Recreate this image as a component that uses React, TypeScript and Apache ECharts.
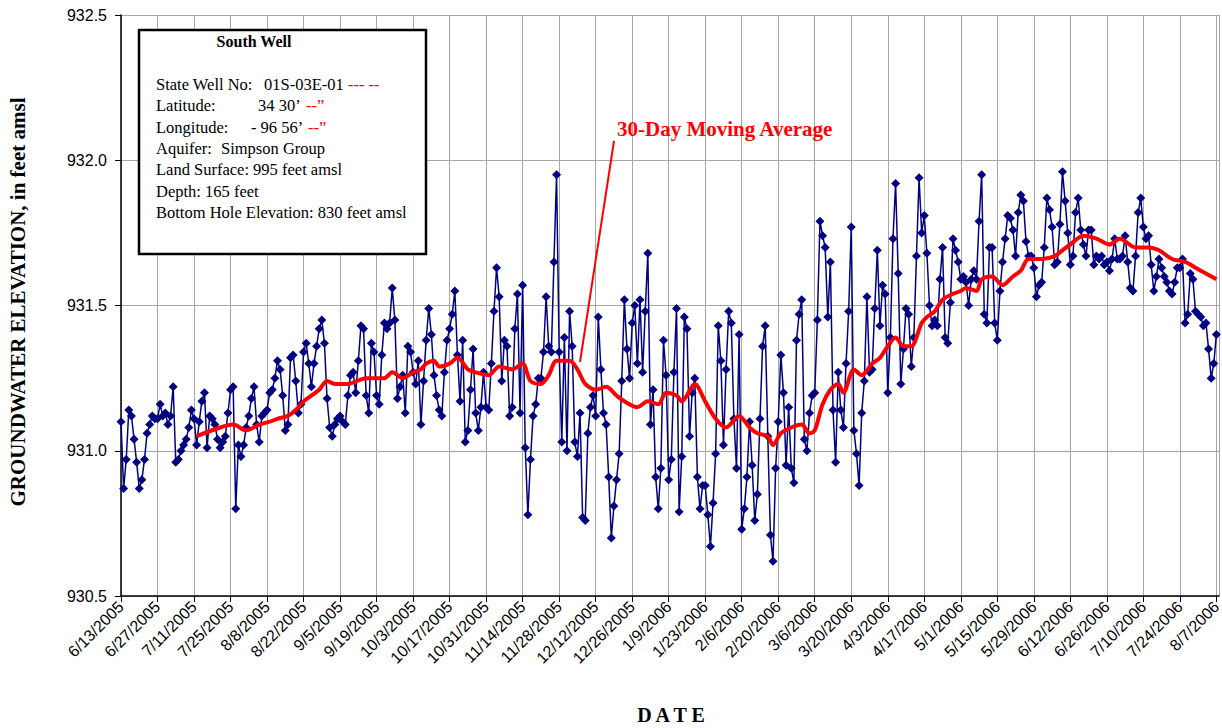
import React, { useEffect, useRef } from "react";
import * as echarts from "echarts";

// Tick labels every 14 days, starting 6/13/2005 (day 0)
const tickLabels = [
  "6/13/2005", "6/27/2005", "7/11/2005", "7/25/2005", "8/8/2005", "8/22/2005",
  "9/5/2005", "9/19/2005", "10/3/2005", "10/17/2005", "10/31/2005", "11/14/2005",
  "11/28/2005", "12/12/2005", "12/26/2005", "1/9/2006", "1/23/2006", "2/6/2006",
  "2/20/2006", "3/6/2006", "3/20/2006", "4/3/2006", "4/17/2006", "5/1/2006",
  "5/15/2006", "5/29/2006", "6/12/2006", "6/26/2006", "7/10/2006", "7/24/2006",
  "8/7/2006",
];

const xTitle = "D A T E";
const yTitle = "GROUNDWATER ELEVATION, in feet amsl";

// Daily groundwater elevations (feet amsl), one per day from 6/13/2005
const dailyLevels = [
  931.10, 930.87, 930.97, 931.14, 931.12, 931.04, 930.96, 930.87, 930.90, 930.97, 931.06, 931.09, 931.12, 931.11,
  931.11, 931.16, 931.12, 931.13, 931.09, 931.12, 931.22, 930.96, 930.97, 931.00, 931.02, 931.04, 931.08,
  931.14, 931.11, 931.02, 931.10, 931.17, 931.20, 931.01, 931.12, 931.11, 931.09, 931.04, 931.01, 931.03, 931.05,
  931.13, 931.21, 931.22, 930.80, 931.02, 930.98, 931.02, 931.08, 931.12, 931.18, 931.22, 931.09, 931.03, 931.12,
  931.13, 931.14, 931.20, 931.21, 931.25, 931.31, 931.28, 931.19, 931.07, 931.09, 931.32, 931.33, 931.24, 931.13,
  931.16, 931.34, 931.37, 931.30, 931.22, 931.30, 931.36, 931.42, 931.45, 931.37, 931.18, 931.08, 931.05,
  931.09, 931.11, 931.12, 931.10, 931.09, 931.19, 931.26, 931.27, 931.20, 931.31, 931.43, 931.42, 931.19, 931.13,
  931.37, 931.34, 931.19, 931.16, 931.33, 931.44, 931.42, 931.44, 931.56, 931.45, 931.18, 931.22, 931.26, 931.13,
  931.36, 931.34, 931.27, 931.23, 931.31, 931.09, 931.24, 931.38, 931.49, 931.40, 931.26, 931.19, 931.14,
  931.12, 931.27, 931.38, 931.42, 931.47, 931.55, 931.33, 931.17, 931.38, 931.03, 931.07, 931.21, 931.35, 931.13,
  931.07, 931.15, 931.27, 931.15, 931.14, 931.30, 931.48, 931.63, 931.53, 931.24, 931.38, 931.36, 931.12, 931.15,
  931.42, 931.54, 931.13, 931.57, 931.01, 930.78, 930.97, 931.12, 931.16, 931.25, 931.25, 931.34, 931.53, 931.36,
  931.34, 931.65, 931.95, 931.34, 931.03, 931.39, 931.00, 931.48, 931.36, 931.03, 930.98, 931.13, 930.77, 930.76,
  931.06, 931.15, 931.19, 931.12, 931.46, 931.28, 931.13, 931.09, 930.91, 930.70,
  930.81, 930.90, 930.99, 931.24, 931.52, 931.35, 931.25, 931.44, 931.50, 931.30, 931.52, 931.27, 931.48, 931.68,
  931.09, 931.21, 930.91, 930.80, 930.94, 931.38, 931.26, 930.90, 930.97, 931.27, 931.49, 930.79, 930.98, 931.46,
  931.42, 931.05, 931.20, 931.25, 930.91, 930.80, 930.88, 930.88, 930.78, 930.67,
  930.82, 930.99, 931.43, 931.31, 931.02, 931.28, 931.48, 931.44, 931.11, 930.94, 931.40, 930.73, 930.80, 930.91,
  931.10, 930.95, 930.76, 930.85, 931.11, 931.36, 931.43, 931.05, 930.71, 930.62,
  930.94, 931.10, 931.33, 931.20, 930.95, 931.15, 930.94, 930.89, 931.38, 931.47, 931.52, 931.04, 931.00, 931.13,
  931.19, 931.20, 931.45, 931.79,
  931.74, 931.70, 931.46, 931.65, 931.14, 930.96, 931.27, 931.14, 931.08, 931.30, 931.48, 931.77, 931.07, 930.99,
  930.88, 931.13, 931.24, 931.53, 931.27, 931.28, 931.49, 931.69, 931.43, 931.57, 931.54, 931.20, 931.39, 931.73,
  931.92, 931.61, 931.23, 931.35, 931.49, 931.47, 931.29, 931.39, 931.67, 931.94,
  931.75, 931.81, 931.68, 931.50, 931.43, 931.45, 931.43, 931.59, 931.70, 931.39, 931.37, 931.51, 931.73, 931.69,
  931.65, 931.59, 931.60, 931.58, 931.50, 931.59, 931.62, 931.59, 931.79, 931.95,
  931.47, 931.44, 931.70, 931.70, 931.44, 931.38, 931.55, 931.65, 931.73, 931.81, 931.80, 931.76, 931.67, 931.82,
  931.88, 931.86, 931.72, 931.67, 931.67, 931.63, 931.53, 931.57, 931.58, 931.70, 931.87, 931.83, 931.77, 931.64,
  931.65, 931.78, 931.96,
  931.86, 931.75, 931.64, 931.67, 931.82, 931.87, 931.76, 931.71, 931.67, 931.76, 931.76, 931.64, 931.67, 931.66,
  931.67, 931.64, 931.65, 931.62, 931.66, 931.73,
  931.66, 931.66, 931.67, 931.74, 931.65, 931.56, 931.55, 931.67, 931.82, 931.87,
  931.77, 931.73, 931.74, 931.64, 931.55, 931.60, 931.66, 931.63, 931.60, 931.58, 931.55, 931.54, 931.58, 931.63,
  931.63, 931.66, 931.44, 931.47, 931.61, 931.59, 931.48, 931.47, 931.46, 931.43, 931.44, 931.35, 931.25, 931.30,
  931.40,
];

// 30-day moving average (day offset from 6/13/2005)
const maDay = [
  29, 38, 43, 48, 53, 57, 60, 64, 67, 70, 73, 76, 79, 82, 87, 94, 101, 104, 108, 112,
  115, 117, 120, 122, 126, 129, 133, 136, 141, 145, 150, 154, 157, 161, 164, 167, 172, 175, 178, 182,
  186, 190, 193, 198, 202, 206, 209, 213, 215, 220, 224, 228, 232, 237, 241, 244, 248, 250, 253, 257,
  261, 264, 266, 269, 272, 275, 277, 281, 284, 288, 291, 294, 297, 300, 303, 307, 309, 312, 315, 319,
  322, 324, 328, 330, 334, 338, 342, 345, 348, 353, 358, 361, 364, 369, 374, 379, 383, 389, 394, 398,
  403, 408, 412, 416, 420,
];
const maValue = [
  931.05, 931.08, 931.09, 931.07, 931.09, 931.10, 931.11, 931.12, 931.14, 931.17, 931.19, 931.21, 931.24, 931.23, 931.23, 931.25, 931.25, 931.27, 931.25, 931.27,
  931.28, 931.30, 931.31, 931.29, 931.30, 931.32, 931.28, 931.27, 931.26, 931.29, 931.28, 931.30, 931.24, 931.23, 931.26, 931.31, 931.31, 931.28, 931.23, 931.21,
  931.22, 931.19, 931.17, 931.15, 931.17, 931.16, 931.20, 931.19, 931.17, 931.23, 931.17, 931.11, 931.08, 931.12, 931.08, 931.06, 931.05, 931.02, 931.06, 931.08,
  931.09, 931.06, 931.07, 931.16, 931.21, 931.23, 931.20, 931.28, 931.26, 931.30, 931.32, 931.36, 931.39, 931.36, 931.36, 931.44, 931.46, 931.48, 931.52, 931.54,
  931.55, 931.56, 931.55, 931.59, 931.60, 931.57, 931.60, 931.62, 931.66, 931.66, 931.67, 931.69, 931.71, 931.74, 931.73, 931.71, 931.73, 931.70, 931.70, 931.69,
  931.66, 931.65, 931.63, 931.61, 931.59,
];

const SERIF = '"Liberation Serif", "Times New Roman", serif';
const SANS = '"Liberation Sans", Arial, sans-serif';

function boxText(x: number, y: number, text: string, color = "#000", bold = false) {
  return {
    type: "text",
    z: 101,
    x,
    y,
    style: {
      text,
      fill: color,
      fontFamily: SERIF,
      fontSize: 16.5,
      fontWeight: bold ? "bold" : "normal",
      align: "left",
      verticalAlign: "middle",
    },
  };
}

export default function App() {
  const ref = useRef<HTMLDivElement>(null);
  useEffect(() => {
    const chart = echarts.init(ref.current!, null, { renderer: "svg" });
    const blue = dailyLevels.map((v, i) => [i, v]);
    const red = maDay.map((d, i) => [d, maValue[i]]);
    chart.setOption({
      animation: false,
      backgroundColor: "#fff",
      grid: {
        left: 121,
        right: 3,
        top: 15,
        bottom: 132,
        containLabel: false,
        outerBoundsMode: "none",
      },
      xAxis: {
        type: "value",
        min: 0,
        max: 421,
        interval: 14,
        axisLine: { onZero: false, lineStyle: { color: "#000", width: 1.5 } },
        axisTick: { show: true, length: 6, lineStyle: { color: "#000" } },
        axisLabel: {
          rotate: 45,
          fontFamily: SANS,
          fontSize: 16,
          color: "#000",
          margin: 8,
          showMaxLabel: false,
          formatter: (v: number) => (v % 14 === 0 && tickLabels[v / 14] ? tickLabels[v / 14] : ""),
        },
        splitLine: { show: true, lineStyle: { color: "#a6a6a6", width: 1 } },
      },
      yAxis: {
        type: "value",
        min: 930.5,
        max: 932.5,
        interval: 0.5,
        axisLine: { show: true, lineStyle: { color: "#000", width: 1.5 } },
        axisTick: { show: true, length: 6, lineStyle: { color: "#000" } },
        axisLabel: {
          fontFamily: SANS,
          fontSize: 16,
          color: "#000",
          margin: 14,
          formatter: (v: number) => v.toFixed(1),
        },
        splitLine: { show: true, lineStyle: { color: "#a6a6a6", width: 1 } },
      },
      series: [
        {
          type: "line",
          data: blue,
          showAllSymbol: true,
          symbol: "diamond",
          symbolSize: 9,
          lineStyle: { color: "#000080", width: 1.5 },
          itemStyle: { color: "#000080" },
          z: 2,
        },
        {
          type: "line",
          data: red,
          symbol: "none",
          smooth: 0.3,
          lineStyle: { color: "#ff0000", width: 4 },
          z: 3,
        },
      ],
      graphic: [
        {
          type: "text",
          z: 101,
          x: 671,
          y: 715,
          style: {
            text: xTitle,
            fill: "#000",
            fontFamily: SERIF,
            fontSize: 20,
            fontWeight: "bold",
            align: "center",
            verticalAlign: "middle",
          },
        },
        {
          type: "text",
          z: 101,
          x: 18,
          y: 302,
          rotation: Math.PI / 2,
          style: {
            text: yTitle,
            fill: "#000",
            fontFamily: SERIF,
            fontSize: 21,
            fontWeight: "bold",
            align: "center",
            verticalAlign: "middle",
          },
        },
        {
          type: "rect",
          z: 100,
          shape: { x: 139, y: 30, width: 287, height: 224 },
          style: { fill: "#fff", stroke: "#000", lineWidth: 2.5 },
        },
        {
          type: "text",
          z: 101,
          x: 254,
          y: 41,
          style: {
            text: "South Well",
            fill: "#000",
            fontFamily: SERIF,
            fontSize: 16,
            fontWeight: "bold",
            align: "center",
            verticalAlign: "middle",
          },
        },
        boxText(156, 84, "State Well No:"),
        boxText(264, 84, "01S-03E-01"),
        boxText(348, 84, "--- --", "#ff0000"),
        boxText(156, 105.5, "Latitude:"),
        boxText(258, 105.5, "34 30\u2019"),
        boxText(306, 105.5, "--\u201d", "#ff0000"),
        boxText(156, 127, "Longitude:"),
        boxText(251, 127, "- 96 56\u2019"),
        boxText(308, 127, "--\u201d", "#ff0000"),
        boxText(156, 148.8, "Aquifer:"),
        boxText(221, 148.8, "Simpson Group"),
        boxText(156, 169.7, "Land Surface: 995 feet amsl"),
        boxText(156, 191.2, "Depth: 165 feet"),
        boxText(156, 212.5, "Bottom Hole Elevation: 830 feet amsl"),
        {
          type: "line",
          z: 101,
          shape: { x1: 614, y1: 141, x2: 580, y2: 362 },
          style: { stroke: "#ff0000", lineWidth: 2 },
        },
        {
          type: "text",
          z: 101,
          x: 617,
          y: 129,
          style: {
            text: "30-Day Moving Average",
            fill: "#ff0000",
            fontFamily: SERIF,
            fontSize: 21,
            fontWeight: "bold",
            align: "left",
            verticalAlign: "middle",
          },
        },
      ],
    });
    return () => chart.dispose();
  }, []);
  return (
    <div
      ref={ref}
      style={{ position: "absolute", left: 0, top: 0, width: 1222, height: 728, background: "#fff" }}
    />
  );
}
